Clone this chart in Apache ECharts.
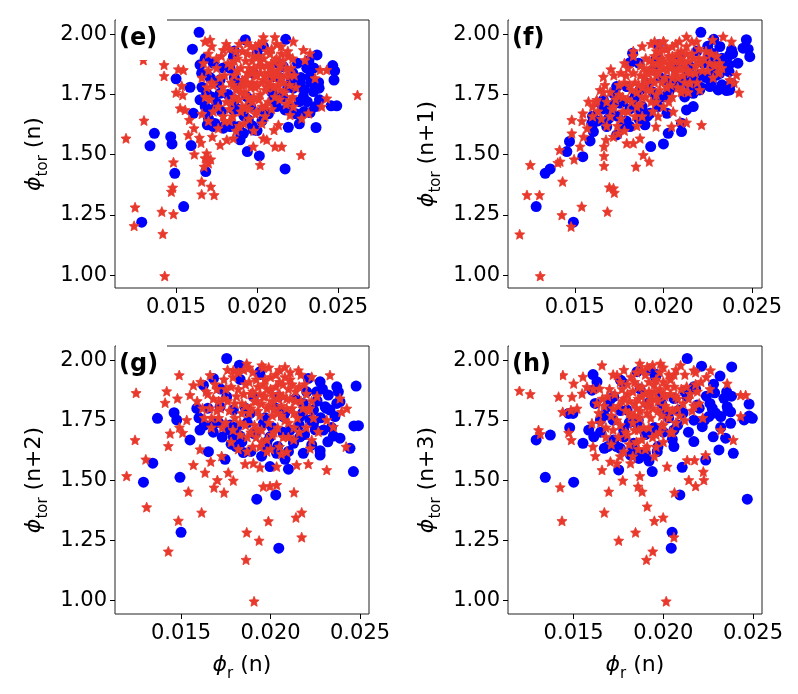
<!DOCTYPE html>
<html>
<head>
<meta charset="utf-8">
<script src="https://cdn.jsdelivr.net/npm/echarts@6/dist/echarts.min.js"></script>
<style>
  html, body { margin: 0; padding: 0; background: #fff; }
  #chart { width: 798px; height: 694px; }
</style>
</head>
<body>
<div id="chart"></div>
<script>
// tick values
var xTicks = [0.015, 0.020, 0.025]
var yTicks = [1.00, 1.25, 1.50, 1.75, 2.00]
var panelNames = ['(e)', '(f)', '(g)', '(h)']
var yNames = ['(n)', '(n+1)', '(n+2)', '(n+3)']

// (e) phi_r(n) vs phi_tor(n)
var eBlue = [
  [0.01642,2.008],[0.01601,1.938],[0.0150,1.815],[0.01366,1.589],[0.01339,1.537],[0.01467,1.575],
  [0.01475,1.545],[0.01492,1.423],[0.01547,1.285],[0.01288,1.220],[0.01593,1.538],[0.01586,1.780],
  [0.01683,1.430],[0.0194,1.513],[0.02014,1.495],[0.02173,1.441],[0.02177,1.979],[0.01928,1.977],
  [0.0237,1.914],[0.02467,1.870],[0.02479,1.848],[0.02475,1.810],[0.02492,1.703],[0.02457,1.703],
  [0.02364,1.613],[0.02385,1.728],[0.02383,1.776],[0.02327,1.675],[0.0229,1.679],[0.02261,1.628],
  [0.02193,1.614],[0.02307,1.859],[0.02327,1.824],[0.02266,1.797],[0.02224,1.776],[0.02173,1.686],
  [0.02142,1.741],[0.0221,1.811],[0.02348,1.762],[0.02286,1.741],[0.01895,1.562],[0.01916,1.589],
  [0.01977,1.603],[0.01887,1.617],[0.01833,1.617],[0.01792,1.610],[0.0173,1.617],[0.01693,1.624],
  [0.01648,1.728],[0.01607,1.672],[0.01658,1.838],[0.0173,1.880],[0.01648,1.873],[0.01772,1.811],
  [0.01833,1.859],[0.01689,1.755],[0.01751,1.714],[0.01854,1.686],[0.01936,1.741],[0.02039,1.949],
  [0.021,1.728],[0.02039,1.686],[0.01895,1.797],[0.01977,1.838],[0.021,1.824],[0.02162,1.866],
  [0.01854,1.907],[0.01772,1.755],[0.0171,1.686],[0.01946,1.645],[0.01864,1.728],
  [0.0166,1.78],[0.0168,1.70],[0.0170,1.65],[0.0172,1.74],[0.0174,1.63],[0.0176,1.80],[0.0178,1.68],
  [0.0180,1.62],[0.0182,1.75],[0.0185,1.62],[0.0188,1.69],[0.0190,1.58],[0.0192,1.66],[0.0197,1.62],
  [0.0200,1.60],[0.0203,1.64],[0.0207,1.67],[0.0212,1.70],[0.0216,1.74],[0.0219,1.78],[0.0222,1.84],
  [0.0225,1.88],[0.0227,1.82],[0.0229,1.77],[0.0231,1.72],[0.0233,1.80],[0.0235,1.86],[0.0232,1.89],
  [0.0236,1.70],[0.0238,1.80],[0.0226,1.72],[0.0224,1.67],[0.0220,1.70],[0.0214,1.82],[0.0209,1.76],
  [0.0196,1.70],[0.0186,1.82],[0.0179,1.86],[0.0171,1.82],[0.0168,1.90],[0.0186,1.93],[0.0200,1.92],
  [0.0213,1.88]
]
var eRed = [
  [0.01191,1.568],[0.01247,1.282],[0.01241,1.205],[0.01302,1.642],[0.01298,1.893],[0.01426,1.873],
  [0.01426,1.827],[0.01412,1.264],[0.01418,1.172],[0.0143,0.997],[0.01484,1.254],[0.01471,1.347],
  [0.01479,1.364],[0.01484,1.469],[0.01514,1.855],[0.01545,1.852],[0.01535,1.786],[0.0150,1.758],
  [0.01541,1.748],[0.01525,1.693],[0.01556,1.686],[0.01576,1.582],[0.01582,1.645],[0.01611,1.610],
  [0.01644,1.571],[0.01654,1.550],[0.01613,1.502],[0.01658,1.389],[0.01658,1.336],[0.01673,1.451],
  [0.01679,1.486],[0.0170,1.465],[0.01714,1.481],[0.01689,1.506],[0.01714,1.368],[0.01735,1.333],
  [0.01724,1.575],[0.01772,1.541],[0.01813,1.562],[0.01854,1.568],[0.01977,1.534],[0.02019,1.458],
  [0.02039,1.568],[0.0206,1.562],[0.02111,1.534],[0.02152,1.534],[0.02132,1.624],[0.02105,1.603],
  [0.02272,1.499],[0.02276,1.651],[0.02317,1.672],[0.02399,1.700],[0.0243,1.734],[0.02358,1.818],
  [0.02389,1.852],[0.0243,1.852],[0.0262,1.748],[0.02204,1.728],[0.02224,1.700],[0.02204,1.665],
  [0.02224,1.970],[0.0211,1.988],[0.02039,1.988],[0.0171,1.977],[0.01679,1.970],[0.01792,1.935],
  [0.0194,1.963],[0.02286,1.935],[0.02327,1.921],[0.02296,1.893],
  [0.0170,1.85],[0.0172,1.80],[0.0175,1.90],[0.0178,1.76],[0.0180,1.83],[0.0182,1.88],[0.0184,1.72],
  [0.0185,1.79],[0.0187,1.93],[0.0188,1.85],[0.0190,1.68],[0.0191,1.81],[0.0192,1.76],[0.0193,1.89],
  [0.0194,1.84],[0.0195,1.73],[0.0196,1.95],[0.0197,1.80],[0.0198,1.86],[0.0199,1.78],[0.0200,1.83],
  [0.0201,1.91],[0.0202,1.75],[0.0203,1.87],[0.0204,1.81],[0.0205,1.70],[0.0206,1.93],[0.0207,1.84],
  [0.0208,1.79],[0.0209,1.88],[0.0210,1.82],[0.0211,1.74],[0.0212,1.90],[0.0213,1.85],[0.0214,1.77],
  [0.0215,1.92],[0.0216,1.80],[0.0218,1.86],[0.0220,1.83],[0.0222,1.90],[0.0224,1.78],[0.0176,1.70],
  [0.0179,1.66],[0.0183,1.64],[0.0189,1.62],[0.0195,1.65],[0.0200,1.68],[0.0186,1.74],[0.0168,1.74],
  [0.0166,1.82],[0.0173,1.68],[0.0170,1.92],[0.0181,1.96],[0.0201,1.96],[0.0212,1.96],[0.0193,1.70],
  [0.0205,1.77],[0.0197,1.89],[0.0189,1.78],[0.0208,1.86],
  [0.0184,1.87],[0.0186,1.83],[0.0188,1.90],[0.0190,1.86],[0.0191,1.93],[0.0192,1.79],[0.0193,1.82],
  [0.0194,1.92],[0.0195,1.86],[0.0196,1.78],[0.0197,1.84],[0.0198,1.91],[0.0199,1.83],[0.0200,1.79],
  [0.0201,1.87],[0.0202,1.84],[0.0203,1.80],[0.0204,1.90],[0.0205,1.83],[0.0206,1.87],[0.0207,1.80],
  [0.0208,1.92],[0.0209,1.84],[0.0210,1.78],[0.0211,1.89],[0.0212,1.83],[0.0213,1.79],[0.0214,1.87],
  [0.0215,1.82],[0.0216,1.89],[0.0217,1.76],[0.0218,1.83],[0.0219,1.91],[0.0220,1.79],[0.0221,1.86],
  [0.0223,1.83],[0.0187,1.77],[0.0189,1.73],[0.0191,1.70],[0.0193,1.75],[0.0195,1.69],[0.0197,1.72],
  [0.0199,1.67],[0.0201,1.73],[0.0203,1.70],[0.0205,1.66],[0.0207,1.72],[0.0209,1.69],[0.0185,1.66],
  [0.0183,1.69],[0.0181,1.72],[0.0179,1.78],[0.0177,1.82],[0.0175,1.86],[0.0173,1.79],[0.0171,1.73],
  [0.0169,1.78],[0.0167,1.88],[0.0172,1.95],[0.0178,1.91],[0.0183,1.94],[0.0189,1.96],[0.0199,1.95],
  [0.0204,1.97],[0.0209,1.94],[0.0215,1.95],[0.0219,1.93],[0.0184,1.80],[0.0186,1.89],[0.0190,1.76],
  [0.0194,1.80],[0.0198,1.74],[0.0202,1.89],[0.0206,1.78],[0.0210,1.85],[0.0214,1.73],[0.0218,1.71],
  [0.0222,1.74],[0.0180,1.64],[0.0187,1.60],[0.0192,1.63],[0.0198,1.60],[0.0203,1.63],[0.0176,1.61],
  [0.0170,1.64],[0.0166,1.67]
]

// (f) phi_r(n) vs phi_tor(n+1)
var fBlue = [
  [0.02211,2.008],[0.02284,1.979],[0.02468,1.977],[0.02449,1.942],[0.02478,1.938],[0.02487,1.907],
  [0.02384,1.935],[0.02374,1.914],[0.02318,1.949],[0.0237,1.873],[0.0237,1.845],[0.02384,1.797],
  [0.02374,1.769],[0.02356,1.766],[0.02309,1.769],[0.02262,1.783],[0.0228,1.852],[0.02299,1.893],
  [0.02262,1.907],[0.02224,1.880],[0.02205,1.831],[0.02168,1.700],[0.0213,1.686],[0.02102,1.596],
  [0.02102,1.631],[0.02027,1.589],[0.0200,1.545],[0.01928,1.534],[0.01896,1.624],[0.01811,1.617],
  [0.01774,1.617],[0.01736,1.582],[0.0168,1.617],[0.01596,1.617],[0.01605,1.596],[0.01596,1.631],
  [0.01586,1.557],[0.01545,1.492],[0.0147,1.555],[0.01455,1.513],[0.01361,1.441],[0.01333,1.423],
  [0.01282,1.285],[0.01492,1.220],[0.01826,1.921],[0.01811,1.882],[0.01971,1.956],[0.01755,1.714],
  [0.01699,1.686],[0.01661,1.728],[0.0183,1.728],[0.01868,1.686],[0.01924,1.672],[0.01962,1.728],
  [0.0202,1.672],[0.02055,1.783],[0.02093,1.797],[0.0213,1.824],[0.02149,1.866],[0.02018,1.810],
  [0.01943,1.852],[0.01905,1.797],[0.01868,1.769],[0.01793,1.783],[0.01736,1.783],[0.01643,1.714],
  [0.01718,1.755],[0.02168,1.755],[0.02205,1.769],[0.02318,1.838],[0.02055,1.866],[0.02093,1.907],
  [0.0160,1.66],[0.0163,1.64],[0.0166,1.69],[0.0169,1.65],[0.0172,1.71],[0.0174,1.66],[0.0177,1.72],
  [0.0179,1.64],[0.0181,1.69],[0.0184,1.74],[0.0186,1.65],[0.0188,1.70],[0.0191,1.66],[0.0194,1.76],
  [0.0197,1.70],[0.0200,1.74],[0.0203,1.76],[0.0206,1.80],[0.0209,1.79],[0.0212,1.74],[0.0215,1.78],
  [0.0218,1.81],[0.0221,1.78],[0.0224,1.82],[0.0227,1.80],[0.0230,1.83],[0.0233,1.90],[0.0235,1.87],
  [0.0228,1.92],[0.0225,1.95],[0.0219,1.93],[0.0213,1.87],[0.0207,1.86],[0.0198,1.82],[0.0189,1.78],
  [0.0196,1.90],[0.0186,1.88],[0.0233,1.79],[0.0239,1.92],[0.0242,1.88]
]
var fRed = [
  [0.01189,1.170],[0.0123,1.333],[0.01249,1.458],[0.01301,1.333],[0.01305,0.997],[0.01427,1.250],
  [0.01431,1.389],[0.01417,1.472],[0.01404,1.467],[0.01414,1.520],[0.01479,1.202],[0.01539,1.285],
  [0.01496,1.481],[0.01483,1.645],[0.01483,1.589],[0.0153,1.534],[0.01549,1.575],[0.01545,1.672],
  [0.01577,1.721],[0.01624,1.728],[0.01643,1.769],[0.01661,1.824],[0.01703,1.855],[0.01665,1.534],
  [0.01665,1.495],[0.01665,1.454],[0.01684,1.264],[0.01695,1.365],[0.01718,1.361],[0.01723,1.343],
  [0.01676,1.562],[0.01718,1.575],[0.01746,1.589],[0.01793,1.548],[0.0183,1.548],[0.01868,1.568],
  [0.01845,1.451],[0.01886,1.499],[0.0192,1.472],[0.01958,1.617],[0.02046,1.617],[0.02093,1.638],
  [0.0213,1.634],[0.02215,1.624],[0.02055,1.679],[0.02318,1.845],[0.02374,1.810],[0.02399,1.799],
  [0.02412,1.831],[0.02427,1.758],[0.02384,1.970],[0.02337,1.990],[0.02277,1.977],[0.0213,1.990],
  [0.02187,1.970],[0.0200,1.970],[0.02318,1.880],[0.02205,1.769],[0.02149,1.797],
  [0.0168,1.72],[0.0172,1.70],[0.0170,1.66],[0.0175,1.75],[0.0177,1.68],[0.0178,1.80],[0.0180,1.73],
  [0.0182,1.77],[0.0183,1.84],[0.0185,1.70],[0.0186,1.79],[0.0187,1.87],[0.0188,1.74],[0.0189,1.82],
  [0.0190,1.90],[0.0191,1.77],[0.0192,1.85],[0.0193,1.72],[0.0194,1.88],[0.0195,1.80],[0.0196,1.93],
  [0.0197,1.84],[0.0198,1.77],[0.0199,1.90],[0.0200,1.86],[0.0201,1.82],[0.0202,1.94],[0.0203,1.88],
  [0.0204,1.79],[0.0205,1.91],[0.0206,1.85],[0.0207,1.96],[0.0208,1.82],[0.0209,1.89],[0.0210,1.93],
  [0.0211,1.86],[0.0212,1.80],[0.0213,1.95],[0.0214,1.89],[0.0215,1.84],[0.0216,1.92],[0.0218,1.87],
  [0.0219,1.80],[0.0220,1.90],[0.0222,1.85],[0.0224,1.93],[0.0226,1.88],[0.0228,1.82],[0.0185,1.62],
  [0.0188,1.66],[0.0178,1.60],[0.0174,1.62],[0.0163,1.68],[0.0166,1.76],[0.0160,1.70],[0.0195,1.97],
  [0.0198,1.96],[0.0205,1.74],[0.0200,1.70],[0.0196,1.75],[0.0210,1.76],[0.0183,1.91],[0.0180,1.86],
  [0.0176,1.84],[0.0230,1.91],[0.0233,1.86],
  [0.0170,1.76],[0.0173,1.73],[0.0175,1.79],[0.0177,1.74],[0.0179,1.83],[0.0181,1.79],[0.0182,1.72],
  [0.0184,1.80],[0.0185,1.76],[0.0187,1.83],[0.0188,1.78],[0.0189,1.86],[0.0190,1.80],[0.0191,1.84],
  [0.0192,1.89],[0.0193,1.81],[0.0194,1.85],[0.0195,1.91],[0.0196,1.83],[0.0197,1.88],[0.0198,1.93],
  [0.0199,1.86],[0.0200,1.89],[0.0201,1.94],[0.0202,1.85],[0.0203,1.91],[0.0204,1.87],[0.0205,1.95],
  [0.0206,1.89],[0.0207,1.84],[0.0208,1.92],[0.0209,1.86],[0.0210,1.90],[0.0211,1.83],[0.0212,1.88],
  [0.0213,1.92],[0.0214,1.85],[0.0215,1.80],[0.0217,1.90],[0.0218,1.84],[0.0220,1.94],[0.0221,1.88],
  [0.0223,1.90],[0.0225,1.85],[0.0227,1.92],[0.0229,1.87],[0.0231,1.84],[0.0176,1.65],[0.0180,1.68],
  [0.0184,1.66],[0.0187,1.71],[0.0190,1.74],[0.0193,1.77],[0.0196,1.72],[0.0199,1.80],[0.0202,1.78],
  [0.0205,1.82],[0.0208,1.78],[0.0211,1.77],[0.0214,1.76],[0.0168,1.62],[0.0165,1.65],[0.0162,1.72],
  [0.0160,1.66],[0.0167,1.79],[0.0172,1.83],[0.0178,1.88],[0.0183,1.93],[0.0188,1.95],[0.0193,1.96],
  [0.0200,1.97],[0.0209,1.97],[0.0216,1.97],[0.0194,1.68],[0.0197,1.66],[0.0203,1.72],[0.0171,1.69],
  [0.0157,1.61],[0.0154,1.64]
]

// (g) phi_r(n) vs phi_tor(n+2)
var gBlue = [
  [0.01755,2.007],[0.01368,1.758],[0.01342,1.571],[0.0129,1.492],[0.01494,1.512],[0.0150,1.283],
  [0.01461,1.781],[0.01476,1.751],[0.0155,1.668],[0.01653,1.619],[0.01746,1.587],[0.01848,1.615],
  [0.01807,1.640],[0.0183,1.684],[0.01923,1.421],[0.02029,1.439],[0.02046,1.217],[0.01997,1.557],
  [0.02034,1.612],[0.02081,1.587],[0.0210,1.546],[0.02183,1.612],[0.02277,1.605],[0.02277,1.623],
  [0.0223,1.647],[0.02388,1.675],[0.02351,1.684],[0.02463,1.536],[0.02444,1.633],[0.02478,1.892],
  [0.02466,1.726],[0.02491,1.727],[0.0237,1.889],[0.02379,1.868],[0.02332,1.792],[0.0236,1.765],
  [0.02388,1.827],[0.02277,1.910],[0.02258,1.868],[0.02211,1.924],[0.02202,1.868],[0.02323,1.855],
  [0.02305,1.806],[0.0224,1.737],[0.02295,1.709],[0.02165,1.681],[0.02128,1.654],[0.02109,1.709],
  [0.02072,1.765],[0.02044,1.848],[0.01941,1.952],[0.01826,1.979],[0.01681,1.924],[0.01625,1.896],
  [0.01588,1.799],[0.01606,1.709],[0.01681,1.737],[0.01774,1.730],[0.01792,1.681],[0.01904,1.695],
  [0.01886,1.778],[0.0196,1.737],[0.01997,1.681],[0.02072,1.695],[0.01904,1.848],[0.01755,1.848],
  [0.01792,1.792],[0.01718,1.806],[0.01979,1.640],[0.02165,1.765],[0.02183,1.820],[0.0224,1.792],
  [0.0160,1.76],[0.0163,1.73],[0.0165,1.80],[0.0168,1.70],[0.0171,1.74],[0.0173,1.68],[0.0176,1.71],
  [0.0178,1.65],[0.0181,1.72],[0.0184,1.66],[0.0187,1.74],[0.0189,1.62],[0.0192,1.70],[0.0195,1.60],
  [0.0198,1.66],[0.0201,1.72],[0.0204,1.64],[0.0207,1.70],[0.0210,1.62],[0.0213,1.66],[0.0216,1.73],
  [0.0219,1.69],[0.0222,1.75],[0.0225,1.71],[0.0228,1.76],[0.0231,1.80],[0.0234,1.72],[0.0237,1.82],
  [0.0226,1.83],[0.0229,1.88],[0.0218,1.78],[0.0214,1.84],[0.0208,1.78],[0.0197,1.76],[0.0186,1.80],
  [0.0172,1.88],[0.0183,1.92],[0.0194,1.94],[0.0203,1.80],[0.0232,1.66]
]
var gRed = [
  [0.01196,1.518],[0.01249,1.864],[0.01243,1.668],[0.01303,1.587],[0.01308,1.388],[0.01429,1.204],
  [0.0142,1.871],[0.01411,1.823],[0.01429,1.643],[0.01439,1.695],[0.01485,1.332],[0.0149,1.938],
  [0.0148,1.841],[0.01491,1.720],[0.01509,1.698],[0.01541,1.453],[0.01569,1.564],[0.01606,1.629],
  [0.01615,1.366],[0.01634,1.532],[0.01684,1.470],[0.01703,1.501],[0.0174,1.449],[0.01727,1.601],
  [0.01764,1.532],[0.01792,1.499],[0.01666,1.578],[0.01867,1.283],[0.01863,1.169],[0.01908,0.996],
  [0.01936,1.249],[0.01988,1.330],[0.0196,1.474],[0.01997,1.476],[0.02034,1.481],[0.02131,1.450],
  [0.02142,1.345],[0.02174,1.366],[0.02174,1.263],[0.02314,1.543],[0.02211,1.568],[0.02146,1.564],
  [0.0209,1.619],[0.02426,1.799],[0.02422,1.640],[0.02332,1.938],[0.0223,1.931],[0.02156,1.958],
  [0.02081,1.972],[0.01951,1.979],[0.01867,1.986],[0.01792,1.958],[0.01662,1.938],[0.01569,1.896],
  [0.0155,1.855],[0.01532,1.751],[0.02388,1.841],[0.02397,1.785],[0.02314,1.751],[0.02351,1.723],
  [0.02267,1.702],[0.0223,1.668],[0.02221,1.633],[0.01904,1.571],[0.01858,1.568],[0.01941,1.554],
  [0.02034,1.557],
  [0.0162,1.80],[0.0165,1.86],[0.0167,1.76],[0.0169,1.90],[0.0171,1.83],[0.0173,1.72],[0.0175,1.88],
  [0.0177,1.79],[0.0179,1.93],[0.0181,1.85],[0.0183,1.74],[0.0184,1.82],[0.0186,1.90],[0.0187,1.68],
  [0.0188,1.78],[0.0189,1.86],[0.0190,1.95],[0.0191,1.73],[0.0192,1.83],[0.0193,1.89],[0.0194,1.77],
  [0.0195,1.66],[0.0196,1.85],[0.0197,1.92],[0.0198,1.80],[0.0199,1.74],[0.0200,1.88],[0.0201,1.83],
  [0.0202,1.70],[0.0203,1.94],[0.0204,1.78],[0.0205,1.86],[0.0206,1.81],[0.0207,1.90],[0.0208,1.75],
  [0.0209,1.84],[0.0210,1.68],[0.0211,1.92],[0.0212,1.80],[0.0214,1.87],[0.0215,1.76],[0.0217,1.83],
  [0.0219,1.90],[0.0220,1.72],[0.0222,1.80],[0.0224,1.76],[0.0226,1.85],[0.0178,1.66],[0.0182,1.63],
  [0.0190,1.64],[0.0198,1.62],[0.0205,1.64],[0.0170,1.79],[0.0174,1.84],[0.0180,1.76],[0.0185,1.96],
  [0.0196,1.97],[0.0201,1.77],[0.0193,1.71],[0.0213,1.72],
  [0.0180,1.82],[0.0182,1.88],[0.0184,1.78],[0.0185,1.86],[0.0186,1.81],[0.0188,1.91],[0.0189,1.80],
  [0.0190,1.87],[0.0191,1.83],[0.0192,1.92],[0.0193,1.79],[0.0194,1.86],[0.0195,1.82],[0.0196,1.90],
  [0.0197,1.85],[0.0198,1.88],[0.0199,1.81],[0.0200,1.93],[0.0201,1.86],[0.0202,1.80],[0.0203,1.89],
  [0.0204,1.84],[0.0205,1.91],[0.0206,1.77],[0.0207,1.85],[0.0208,1.93],[0.0209,1.80],[0.0210,1.88],
  [0.0211,1.84],[0.0212,1.90],[0.0213,1.78],[0.0214,1.83],[0.0216,1.89],[0.0218,1.80],[0.0220,1.86],
  [0.0221,1.79],[0.0223,1.83],[0.0168,1.84],[0.0170,1.88],[0.0172,1.80],[0.0174,1.92],[0.0176,1.83],
  [0.0178,1.89],[0.0166,1.80],[0.0164,1.87],[0.0163,1.76],[0.0167,1.72],[0.0171,1.76],[0.0175,1.74],
  [0.0179,1.71],[0.0183,1.69],[0.0186,1.73],[0.0189,1.70],[0.0192,1.68],[0.0195,1.71],[0.0198,1.67],
  [0.0201,1.69],[0.0204,1.72],[0.0207,1.68],[0.0210,1.74],[0.0213,1.67],[0.0216,1.70],[0.0194,1.64],
  [0.0187,1.62],[0.0200,1.63],[0.0206,1.61],[0.0176,1.96],[0.0182,1.95],[0.0188,1.97],[0.0199,1.97],
  [0.0205,1.96],[0.0211,1.95],[0.0217,1.94],[0.0161,1.91],[0.0159,1.83]
]

// (h) phi_r(n) vs phi_tor(n+3)
var hBlue = [
  [0.02133,2.007],[0.02381,1.972],[0.02213,1.975],[0.02316,1.934],[0.01291,1.668],[0.0137,1.688],
  [0.01342,1.512],[0.0150,1.492],[0.01478,1.719],[0.01472,1.778],[0.01496,1.778],[0.01552,1.654],
  [0.01608,1.940],[0.0163,1.910],[0.01602,1.875],[0.01584,1.709],[0.01612,1.681],[0.01671,1.633],
  [0.01751,1.543],[0.0176,1.633],[0.01817,1.605],[0.01863,1.591],[0.0190,1.612],[0.01938,1.536],
  [0.01966,1.619],[0.02059,1.640],[0.02049,1.283],[0.02044,1.217],[0.02092,1.439],[0.02105,1.554],
  [0.0217,1.661],[0.02236,1.584],[0.02278,1.681],[0.0231,1.626],[0.0239,1.612],[0.02468,1.421],
  [0.02478,1.817],[0.02478,1.767],[0.02496,1.758],[0.0245,1.751],[0.02375,1.785],[0.02356,1.806],
  [0.02353,1.868],[0.02338,1.841],[0.02286,1.864],[0.02273,1.799],[0.0232,1.765],[0.02375,1.737],
  [0.02347,1.675],[0.02254,1.765],[0.02217,1.723],[0.02189,1.813],[0.0217,1.889],[0.02133,1.848],
  [0.02087,1.792],[0.02059,1.709],[0.02003,1.778],[0.01984,1.848],[0.01956,1.931],[0.01928,1.958],
  [0.01854,1.952],[0.01761,1.917],[0.01723,1.848],[0.01798,1.792],[0.01854,1.737],[0.01779,1.709],
  [0.01723,1.668],[0.01686,1.806],[0.01947,1.709],[0.0191,1.820],[0.01649,1.751],[0.01835,1.654],
  [0.0162,1.82],[0.0165,1.70],[0.0167,1.77],[0.0169,1.64],[0.0172,1.75],[0.0174,1.64],[0.0176,1.79],
  [0.0178,1.68],[0.0181,1.74],[0.0183,1.63],[0.0186,1.75],[0.0188,1.61],[0.0190,1.69],[0.0192,1.58],
  [0.0195,1.72],[0.0197,1.64],[0.0200,1.70],[0.0203,1.76],[0.0205,1.67],[0.0208,1.73],[0.0211,1.78],
  [0.0214,1.70],[0.0217,1.75],[0.0220,1.80],[0.0223,1.75],[0.0226,1.82],[0.0229,1.78],[0.0232,1.72],
  [0.0236,1.79],[0.0238,1.85],[0.0228,1.90],[0.0224,1.85],[0.0218,1.88],[0.0212,1.87],[0.0206,1.84],
  [0.0199,1.82],[0.0187,1.88],[0.0177,1.91],[0.0196,1.94],[0.0170,1.83]
]
var hRed = [
  [0.01198,1.873],[0.01258,1.859],[0.01304,1.709],[0.01314,1.693],[0.01416,1.848],[0.0144,1.938],
  [0.01439,1.785],[0.01425,1.471],[0.01435,1.331],[0.01491,1.848],[0.0150,1.903],[0.01485,1.792],
  [0.01472,1.698],[0.01487,1.668],[0.01519,1.799],[0.01552,1.931],[0.01547,1.861],[0.01574,1.889],
  [0.01602,1.737],[0.01608,1.640],[0.01621,1.601],[0.01658,1.543],[0.01658,1.979],[0.01671,1.366],
  [0.01696,1.453],[0.01705,1.578],[0.01742,1.571],[0.01774,1.499],[0.01751,1.249],[0.01817,1.571],
  [0.01845,1.283],[0.01859,1.474],[0.01869,1.518],[0.01882,1.453],[0.0191,1.391],[0.01906,1.169],
  [0.01941,1.204],[0.0195,1.331],[0.01999,1.345],[0.02016,0.996],[0.02059,1.263],[0.02062,1.449],
  [0.02021,1.557],[0.02142,1.501],[0.0218,1.476],[0.02174,1.584],[0.02133,1.584],[0.02226,1.501],
  [0.02223,1.536],[0.02236,1.605],[0.0232,1.709],[0.0239,1.668],[0.02431,1.767],[0.02459,1.855],
  [0.02431,1.855],[0.02356,1.903],[0.02263,1.958],[0.0217,1.958],[0.02096,1.979],[0.01984,1.986],
  [0.01869,1.986],[0.0191,1.972],[0.01742,1.938],[0.01645,1.882],
  [0.0164,1.78],[0.0166,1.84],[0.0168,1.72],[0.0170,1.88],[0.0172,1.80],[0.0174,1.75],[0.0176,1.91],
  [0.0177,1.83],[0.0179,1.70],[0.0180,1.86],[0.0181,1.78],[0.0182,1.93],[0.0183,1.74],[0.0184,1.82],
  [0.0185,1.66],[0.0186,1.89],[0.0187,1.79],[0.0188,1.85],[0.0189,1.72],[0.0190,1.94],[0.0191,1.81],
  [0.0192,1.87],[0.0193,1.76],[0.0194,1.68],[0.0195,1.90],[0.0196,1.84],[0.0197,1.79],[0.0198,1.95],
  [0.0199,1.73],[0.0200,1.86],[0.0201,1.81],[0.0202,1.89],[0.0203,1.76],[0.0204,1.92],[0.0205,1.70],
  [0.0207,1.85],[0.0208,1.80],[0.0210,1.88],[0.0212,1.75],[0.0214,1.84],[0.0216,1.79],[0.0218,1.90],
  [0.0220,1.82],[0.0222,1.76],[0.0178,1.62],[0.0183,1.60],[0.0190,1.63],[0.0196,1.64],[0.0200,1.66],
  [0.0171,1.65],[0.0175,1.68],[0.0188,1.96],[0.0194,1.98],[0.0206,1.94],[0.0184,1.77],[0.0193,1.83],
  [0.0186,1.71],[0.0198,1.70],
  [0.0178,1.84],[0.0179,1.79],[0.0180,1.90],[0.0181,1.83],[0.0182,1.77],[0.0183,1.87],[0.0184,1.91],
  [0.0185,1.80],[0.0186,1.84],[0.0187,1.76],[0.0188,1.89],[0.0189,1.82],[0.0190,1.86],[0.0191,1.78],
  [0.0192,1.91],[0.0193,1.85],[0.0194,1.80],[0.0195,1.87],[0.0196,1.92],[0.0197,1.83],[0.0198,1.88],
  [0.0199,1.77],[0.0200,1.91],[0.0201,1.85],[0.0202,1.80],[0.0203,1.94],[0.0204,1.86],[0.0205,1.79],
  [0.0206,1.89],[0.0208,1.84],[0.0209,1.77],[0.0211,1.82],[0.0213,1.89],[0.0215,1.86],[0.0217,1.81],
  [0.0219,1.87],[0.0221,1.91],[0.0167,1.81],[0.0169,1.85],[0.0171,1.77],[0.0173,1.86],[0.0175,1.81],
  [0.0177,1.88],[0.0165,1.74],[0.0168,1.68],[0.0172,1.71],[0.0176,1.73],[0.0180,1.69],[0.0184,1.71],
  [0.0188,1.67],[0.0192,1.72],[0.0196,1.69],[0.0200,1.73],[0.0204,1.70],[0.0207,1.74],[0.0191,1.64],
  [0.0186,1.63],[0.0181,1.65],[0.0176,1.60],[0.0195,1.60],[0.0172,1.94],[0.0178,1.96],[0.0185,1.95],
  [0.0200,1.97],[0.0207,1.96],[0.0212,1.94],[0.0218,1.95],[0.0224,1.93],[0.0226,1.88],[0.0163,1.82],
  [0.0161,1.88]
]

var blueSets = [eBlue, fBlue, gBlue, hBlue]
var redSets = [eRed, fRed, gRed, hRed]

// layout of the four panels
var grids = [
  { left: 115, top: 20, width: 254, height: 268 },
  { left: 508, top: 20, width: 254, height: 268 },
  { left: 115, top: 346, width: 254, height: 268 },
  { left: 508, top: 346, width: 254, height: 268 }
]
var xRanges = [[0.01123, 0.02691], [0.01123, 0.02556], [0.01131, 0.0255], [0.01134, 0.0255]]
var yRanges = [[0.947, 2.059], [0.947, 2.059], [0.943, 2.059], [0.943, 2.059]]

var FONT = 'DejaVu Sans'
var STAR = 'path://M0,-10L2.7,-3.7L9.51,-3.09L4.4,1.43L5.88,8.09L0,4.7L-5.88,8.09L-4.4,1.43L-9.51,-3.09L-2.7,-3.7Z'

var nameRich = {
  p: { fontFamily: FONT, fontStyle: 'italic', fontSize: 22, color: '#000', lineHeight: 34, verticalAlign: 'middle' },
  s: { fontFamily: FONT, fontSize: 15, color: '#000', lineHeight: 34, verticalAlign: 'bottom' },
  t: { fontFamily: FONT, fontSize: 22, color: '#000', lineHeight: 34, verticalAlign: 'middle' }
}

var xAxes = [], yAxes = [], series = [], graphics = []
for (var i = 0; i < 4; i++) {
  var g = grids[i]
  grids[i] = Object.assign({ show: true, borderColor: '#222', borderWidth: 1, backgroundColor: 'transparent' }, g)

  xAxes.push({
    gridIndex: i,
    type: 'value',
    min: xRanges[i][0],
    max: xRanges[i][1],
    name: i >= 2 ? '{p|ϕ}{s|r}{t| (n)}' : '',
    nameLocation: 'middle',
    nameGap: 34,
    nameTextStyle: { rich: nameRich },
    axisLine: { show: false },
    splitLine: { show: false },
    axisTick: { show: true, length: 5, lineStyle: { color: '#000' }, customValues: xTicks },
    axisLabel: {
      margin: 9, color: '#000', fontSize: 21, fontFamily: FONT, customValues: xTicks,
      formatter: function (v) { return v.toFixed(3) }
    }
  })

  yAxes.push({
    gridIndex: i,
    type: 'value',
    min: yRanges[i][0],
    max: yRanges[i][1],
    name: '{p|ϕ}{s|tor}{t| ' + yNames[i] + '}',
    nameLocation: 'middle',
    nameRotate: 90,
    nameGap: 64,
    nameTextStyle: { rich: nameRich },
    axisLine: { show: false },
    splitLine: { show: false },
    axisTick: { show: true, length: 5, lineStyle: { color: '#000' }, customValues: yTicks },
    axisLabel: {
      margin: 8, color: '#000', fontSize: 21, fontFamily: FONT, customValues: yTicks,
      formatter: function (v) { return v.toFixed(2) }
    }
  })

  series.push({
    type: 'scatter',
    xAxisIndex: i,
    yAxisIndex: i,
    symbol: 'circle',
    symbolSize: 11,
    itemStyle: { color: '#0000ff', opacity: 1 },
    data: blueSets[i],
    animation: false,
    silent: true
  })
  series.push({
    type: 'scatter',
    xAxisIndex: i,
    yAxisIndex: i,
    symbol: STAR,
    symbolSize: 10,
    itemStyle: { color: '#e8392c', opacity: 1, borderColor: '#e8392c', borderWidth: 0.8 },
    data: redSets[i],
    animation: false,
    silent: true
  })

  // white label box over the top-left corner, like the original
  graphics.push({
    type: 'rect',
    z: 100,
    shape: { x: g.left + 1, y: g.top - 8, width: 51, height: 48 },
    style: { fill: '#fff' }
  })
  graphics.push({
    type: 'text',
    z: 101,
    x: g.left + 4,
    y: g.top + 19,
    style: {
      text: panelNames[i],
      fill: '#000',
      fontSize: 24,
      fontWeight: 'bold',
      fontFamily: FONT,
      verticalAlign: 'middle'
    }
  })
}

var myChart = echarts.init(document.getElementById('chart'), null, { renderer: 'canvas' })
var option = {
  backgroundColor: '#fff',
  animation: false,
  grid: grids,
  xAxis: xAxes,
  yAxis: yAxes,
  series: series,
  graphic: graphics
}
myChart.setOption(option)
</script>
</body>
</html>
